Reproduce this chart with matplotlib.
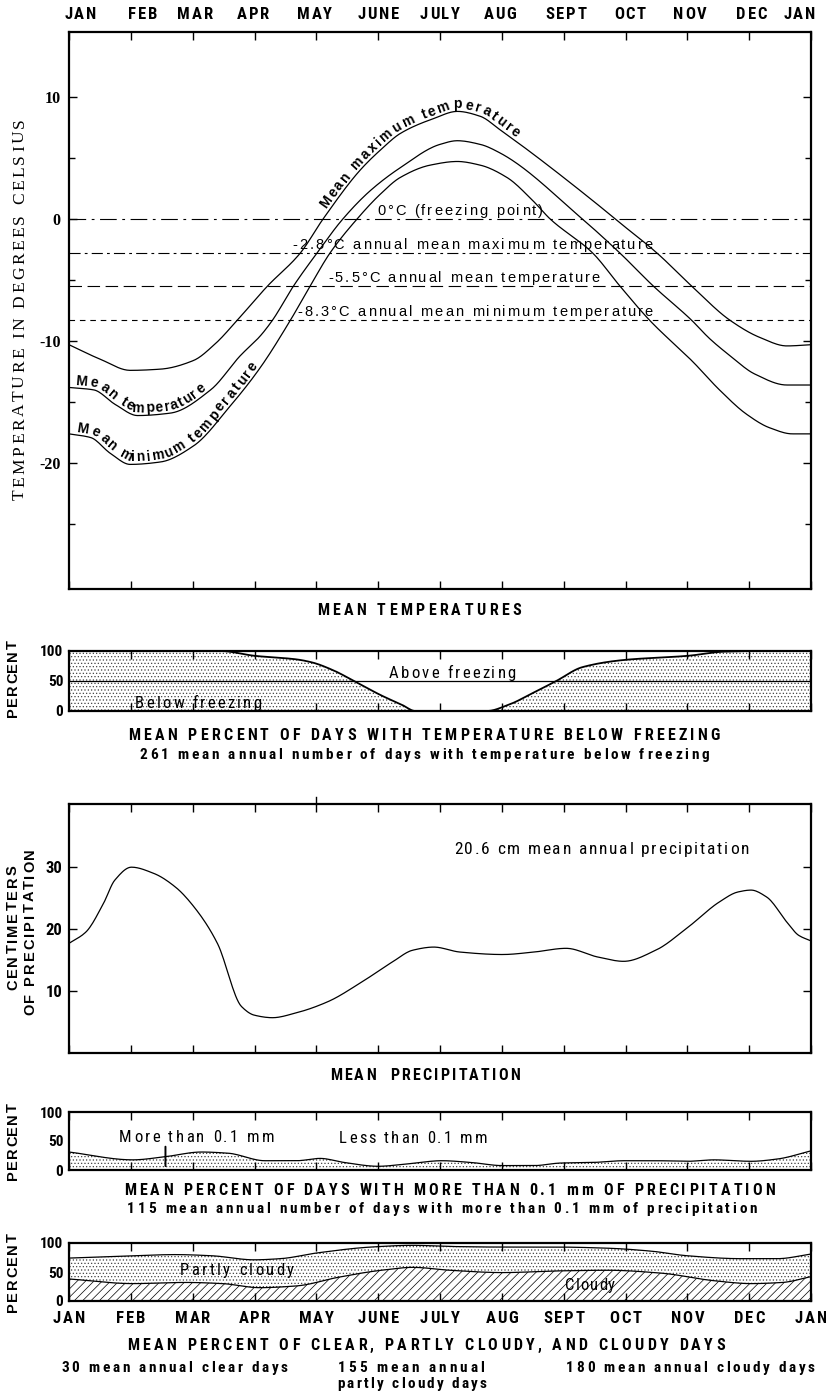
import numpy as np
import matplotlib
matplotlib.use("Agg")
import matplotlib.pyplot as plt
from matplotlib.font_manager import FontProperties, fontManager
from matplotlib.transforms import IdentityTransform

# ---------------- data ----------------
month_labels = ['JAN', 'FEB', 'MAR', 'APR', 'MAY', 'JUNE', 'JULY', 'AUG',
                'SEPT', 'OCT', 'NOV', 'DEC', 'JAN']

# Mean maximum temperature (month position, deg C)
tmax_m = [0.00, 0.51, 0.99, 1.48, 2.01, 2.37, 2.72, 3.21, 3.74, 4.11, 4.71, 5.05,
          5.36, 5.89, 6.28, 6.65, 6.97, 8.47, 8.83, 9.51, 10.07, 10.69, 11.17, 11.61, 12.0]
tmax_v = [-10.3, -11.5, -12.4, -12.3, -11.6, -10.2, -8.3, -5.5, -2.8, 0.0, 4.0, 5.7,
          7.0, 8.2, 8.8, 8.4, 7.3, 1.5, 0.0, -2.8, -5.5, -8.3, -9.7, -10.4, -10.3]

# Mean temperature
tmean_m = [0.00, 0.40, 0.75, 1.11, 1.64, 2.29, 2.77, 3.09, 3.29, 3.63, 4.01, 4.43,
           4.87, 5.36, 6.00, 6.28, 6.65, 6.97, 8.30, 8.91, 9.45, 10.07, 10.36, 10.69,
           11.09, 11.61, 12.0]
tmean_v = [-13.8, -14.0, -15.2, -16.1, -15.9, -14.0, -11.2, -9.6, -8.3, -5.5, -2.8, 0.0,
           2.3, 4.2, 6.1, 6.4, 6.1, 5.4, 0.0, -2.8, -5.5, -8.3, -9.8, -11.2,
           -12.7, -13.6, -13.6]

# Mean minimum temperature
tmin_m = [0.00, 0.35, 0.67, 0.99, 1.48, 2.01, 2.61, 3.09, 3.58, 3.90, 4.22, 4.66,
          5.03, 5.36, 5.84, 6.28, 6.65, 7.08, 7.50, 7.78, 8.47, 8.91, 9.39, 10.09,
          10.52, 10.96, 11.33, 11.70, 12.0]
tmin_v = [-17.6, -17.9, -19.2, -20.1, -19.9, -18.6, -15.3, -12.2, -8.3, -5.5, -2.8, 0.0,
          2.0, 3.4, 4.4, 4.7, 4.4, 3.4, 1.5, 0.0, -2.8, -5.5, -8.3, -11.7,
          -14.0, -16.0, -17.1, -17.6, -17.6]

ref_vals = [0.0, -2.8, -5.5, -8.3]
ref_labels = ['0°C (freezing point)',
              '-2.8°C annual mean maximum temperature',
              '-5.5°C annual mean temperature',
              '-8.3°C annual mean minimum temperature']

# Percent of days below freezing
frz_m = [0.0, 2.45, 3.0, 3.68, 3.93, 4.27, 4.61, 5.05, 5.39, 5.6, 6.76, 7.1, 7.52,
         7.88, 8.3, 8.97, 10.01, 10.61, 11.17, 12.0]
frz_v = [100, 100, 92, 86, 81, 68, 50, 26, 10, 0, 0, 10, 31,
         50, 73, 85, 92, 99, 100, 100]

# Mean precipitation (cm)
pr_m = [0.0, 0.27, 0.56, 0.74, 1.01, 1.37, 1.72, 2.06, 2.40, 2.79, 3.0, 3.29, 3.68,
        4.19, 4.71, 5.23, 5.56, 5.90, 6.32, 7.01, 7.52, 8.04, 8.55, 8.97, 9.49,
        10.01, 10.52, 10.82, 11.03, 11.28, 11.62, 11.80, 12.0]
pr_v = [17.7, 19.5, 24.2, 27.9, 30.0, 29.0, 26.8, 23.1, 17.7, 7.5, 6.1, 5.7, 6.5,
        8.3, 11.3, 14.7, 16.6, 17.1, 16.3, 15.9, 16.3, 16.9, 15.5, 14.8, 16.6,
        20.3, 24.4, 26.0, 26.3, 25.2, 21.0, 19.0, 18.1]

# Percent of days with more than 0.1 mm precipitation
pd_m = [0.0, 1.03, 1.56, 2.14, 2.57, 3.17, 3.68, 4.06, 4.45, 5.0, 5.47, 6.03, 6.5,
        7.01, 7.52, 7.95, 8.47, 8.98, 9.49, 10.0, 10.43, 11.03, 11.46, 12.0]
pd_v = [31, 17.5, 23, 31, 29, 16, 16, 20, 13, 6.4, 10.5, 16, 13,
        7.6, 7.6, 12, 13, 16, 16, 15, 17.5, 15, 19, 33]

# Cloud cover: boundary clear / partly cloudy and partly cloudy / cloudy (percent)
cu_m = [0.0, 1.03, 1.72, 2.31, 2.99, 3.42, 4.02, 4.88, 5.56, 6.16, 7.01, 7.87, 8.72,
        9.41, 10.0, 10.86, 11.46, 12.0]
cu_v = [74, 78, 80, 78, 71, 73, 83, 93, 96, 94, 93, 93, 91, 86, 78, 73, 73, 81]
cl_m = [0.0, 1.03, 1.89, 2.48, 3.08, 3.68, 4.36, 5.05, 5.56, 6.16, 7.01, 7.95, 8.72,
        9.58, 10.43, 11.03, 11.54, 12.0]
cl_v = [38, 30, 32, 30, 23, 26, 41, 53, 58, 53, 49, 52, 53, 48, 35, 30, 32, 42]

# ---------------- fonts ----------------
_names = {f.name for f in fontManager.ttflist}
def first_font(cands):
    for c in cands:
        if c in _names:
            return c
    return 'DejaVu Sans'

COND = first_font(['Liberation Sans Narrow', 'Roboto Condensed', 'DejaVu Sans'])
SANS = first_font(['Liberation Sans', 'DejaVu Sans'])
SERIF = first_font(['Liberation Serif', 'DejaVu Serif'])

def fp(fam, size, weight='normal'):
    return FontProperties(family=fam, size=size, weight=weight)

plt.rcParams['hatch.linewidth'] = 0.5
plt.rcParams['lines.scale_dashes'] = False

W, H = 826, 1392
fig = plt.figure(figsize=(W / 100, H / 100), dpi=100)
fig.patch.set_facecolor('white')
R = fig.canvas.get_renderer()


def smooth(x, y, n=500):
    """Monotone cubic (PCHIP) drawing path through the read points."""
    x = np.asarray(x, float); y = np.asarray(y, float)
    h = np.diff(x); d = np.diff(y) / h
    m = np.zeros_like(y)
    m[0] = d[0]; m[-1] = d[-1]
    for k in range(1, len(y) - 1):
        if d[k - 1] * d[k] <= 0:
            m[k] = 0.0
        else:
            w1 = 2 * h[k] + h[k - 1]; w2 = h[k] + 2 * h[k - 1]
            m[k] = (w1 + w2) / (w1 / d[k - 1] + w2 / d[k])
    xs = np.linspace(x[0], x[-1], n)
    idx = np.clip(np.searchsorted(x, xs, side='right') - 1, 0, len(h) - 1)
    t = (xs - x[idx]) / h[idx]
    h00 = 2 * t**3 - 3 * t**2 + 1; h10 = t**3 - 2 * t**2 + t
    h01 = -2 * t**3 + 3 * t**2; h11 = t**3 - t**2
    ys = h00 * y[idx] + h10 * h[idx] * m[idx] + h01 * y[idx + 1] + h11 * h[idx] * m[idx + 1]
    return xs, ys


def _w(s, f):
    return R.get_text_width_height_descent(s, f, ismath=False)[0]

def adv(ch, f):
    return _w('n' + ch + 'n', f) - _w('nn', f)

def place(pts, text, f, s0, extra, offset=0.0):
    pts = np.asarray(pts, float)
    d = np.hypot(*np.diff(pts, axis=0).T)
    s = np.concatenate([[0], np.cumsum(d)])
    pos = s0
    for ch in text:
        w = adv(ch, f)
        if ch != ' ':
            c = pos + w / 2
            x = np.interp(c, s, pts[:, 0]); y = np.interp(c, s, pts[:, 1])
            xa = np.interp(c - 4, s, pts[:, 0]); ya = np.interp(c - 4, s, pts[:, 1])
            xb = np.interp(c + 4, s, pts[:, 0]); yb = np.interp(c + 4, s, pts[:, 1])
            a = np.arctan2(yb - ya, xb - xa)
            fig.text(x - np.sin(a) * offset, y + np.cos(a) * offset, ch,
                     transform=IdentityTransform(), rotation=np.degrees(a),
                     rotation_mode='anchor', ha='center', va='baseline',
                     fontproperties=f)
        pos += w + extra

def stext(x0, x1, yb, text, f):
    tot = sum(adv(c, f) for c in text)
    extra = (x1 - x0 - tot) / (len(text) - 1)
    place([[x0, H - yb], [x0 + 3000, H - yb]], text, f, 0.0, extra)

def ctext(xc, yb, text, f, extra=0.0):
    tot = sum(adv(c, f) for c in text) + extra * (len(text) - 1)
    x0 = xc - tot / 2
    place([[x0, H - yb], [x0 + 3000, H - yb]], text, f, 0.0, extra)

def vtext(xb, y_bot, y_top, text, f):
    tot = sum(adv(c, f) for c in text)
    extra = (y_bot - y_top - tot) / (len(text) - 1)
    place([[xb, H - y_bot], [xb, H - y_bot + 3000]], text, f, 0.0, extra)

def curve_text(ax, mx, vy, m0, m1, text, f, offset):
    pts = ax.transData.transform(np.column_stack([mx, vy]))
    d = np.hypot(*np.diff(pts, axis=0).T)
    s = np.concatenate([[0], np.cumsum(d)])
    s0 = np.interp(m0, mx, s); s1 = np.interp(m1, mx, s)
    tot = sum(adv(c, f) for c in text)
    extra = (s1 - s0 - tot) / (len(text) - 1)
    place(pts, text, f, s0, extra, offset)

def rect(top, bottom):
    return [69 / W, 1 - bottom / H, 742 / W, (bottom - top) / H]

def style_axes(ax):
    for sp in ax.spines.values():
        sp.set_linewidth(1.6)
    ax.set_xlim(0, 12)
    ax.set_xticks(range(13))
    ax.tick_params(axis='both', which='both', direction='in', top=True, right=True,
                   width=1.0, colors='black')
    ax.tick_params(which='major', length=6)
    ax.tick_params(which='minor', length=4)

LW = 0.9
months = np.arange(13)

# ================= temperature panel =================
axT = fig.add_axes(rect(32, 589))
style_axes(axT)
axT.set_ylim(-30.3, 15.3)
axT.set_xticklabels([])
axT.set_yticks([-20, -10, 0, 10])
axT.set_yticklabels(['-20', '-10', '0', '10'], fontproperties=fp(SERIF, 11.5, 'bold'))
axT.set_yticks([-25, -15, -5, 5], minor=True)
axT.tick_params(axis='y', which='major', pad=6)

sx_max, sy_max = smooth(tmax_m, tmax_v)
sx_mean, sy_mean = smooth(tmean_m, tmean_v)
sx_min, sy_min = smooth(tmin_m, tmin_v)
axT.plot(sx_max, sy_max, color='black', lw=LW)
axT.plot(sx_mean, sy_mean, color='black', lw=LW)
axT.plot(sx_min, sy_min, color='black', lw=LW)

ref_styles = [(0, (12, 4, 2, 4)), (0, (8, 3, 2, 3)), (0, (9, 4)), (0, (4, 3.5))]
for v, ls in zip(ref_vals, ref_styles):
    axT.axhline(v, color='black', lw=0.8, linestyle=ls)

ref_spans = [(377, 543), (292, 653), (328, 600), (297, 653)]
f_ref = fp(SANS, 10.5)
for v, lab, (x0, x1) in zip(ref_vals, ref_labels, ref_spans):
    yl = H - axT.transData.transform((0, v))[1]
    stext(x0, x1, yl - 4, lab, f_ref)

f_cur = fp(SANS, 10, 'bold')
curve_text(axT, sx_max, sy_max, 4.2, 7.2, 'Mean maximum temperature', f_cur, 3)
curve_text(axT, sx_mean, sy_mean, 0.1, 2.25, 'Mean temperature', f_cur, 3)
curve_text(axT, sx_min, sy_min, 0.1, 3.1, 'Mean minimum temperature', f_cur, 3)

# top month labels
top_pos = [0.18, 1.19, 2.04, 2.98, 3.97, 5.0, 6.0, 6.97, 8.04, 9.07, 10.04, 11.04, 11.81]
f_mon = fp(COND, 12, 'bold')
for p, lab in zip(top_pos, month_labels):
    xc = axT.transData.transform((p, 0))[0]
    ctext(xc, 19, lab, f_mon, extra=1.8)

vtext(24, 500, 118, 'TEMPERATURE IN DEGREES CELSIUS', fp(SERIF, 12.5))
stext(317, 521, 615, 'MEAN TEMPERATURES', fp(COND, 11.5, 'bold'))

# ================= below freezing panel =================
axF = fig.add_axes(rect(651, 711))
style_axes(axF)
axF.set_ylim(0, 100)
axF.set_xticklabels([])
axF.set_yticks([0, 50, 100])
axF.set_yticklabels(['0', '50', '100'], fontproperties=fp(COND, 11, 'bold'))
axF.tick_params(axis='y', which='major', pad=4, length=0)
sfx, sfy = smooth(frz_m, frz_v)
axF.fill_between(sfx, 0, sfy, facecolor='white', edgecolor='#444444', hatch='.....', linewidth=0)
axF.plot(sfx, sfy, color='black', lw=1.3)
axF.axhline(50, color='black', lw=0.9)
stext(389, 516, 678, 'Above freezing', fp(COND, 12))
stext(135, 262, 708, 'Below freezing', fp(COND, 12))
vtext(17, 717, 640, 'PERCENT', fp(SANS, 10.5, 'bold'))
stext(128, 720, 740, 'MEAN PERCENT OF DAYS WITH TEMPERATURE BELOW FREEZING', fp(COND, 11.5, 'bold'))
stext(140, 709, 759, '261 mean annual number of days with temperature below freezing', fp(COND, 11, 'bold'))

# ================= precipitation panel =================
axP = fig.add_axes(rect(804, 1053))
style_axes(axP)
axP.set_ylim(0, 40.2)
axP.set_xticklabels([])
axP.set_yticks([10, 20, 30])
axP.set_yticklabels(['10', '20', '30'], fontproperties=fp(COND, 12, 'bold'))
axP.tick_params(axis='y', which='major', pad=5)
spx, spy = smooth(pr_m, pr_v)
axP.plot(spx, spy, color='black', lw=LW)
# small stray tick above the frame at MAY, as in the original print
axP.plot([4, 4], [40.2, 41.3], color='black', lw=1.0, clip_on=False)
stext(454, 749, 854, '20.6 cm mean annual precipitation', fp(COND, 12.5))
vtext(17, 990, 865, 'CENTIMETERS', fp(SANS, 10.5, 'bold'))
vtext(34, 1015, 848, 'OF PRECIPITATION', fp(SANS, 10.5, 'bold'))
stext(330, 520, 1080, 'MEAN  PRECIPITATION', fp(COND, 11.5, 'bold'))

# ================= precipitation days panel =================
axD = fig.add_axes(rect(1112, 1170))
style_axes(axD)
axD.set_ylim(0, 100)
axD.set_xticklabels([])
axD.set_yticks([0, 50, 100])
axD.set_yticklabels(['0', '50', '100'], fontproperties=fp(COND, 11, 'bold'))
axD.tick_params(axis='y', which='major', pad=4, length=0)
sdx, sdy = smooth(pd_m, pd_v)
axD.fill_between(sdx, 0, sdy, facecolor='white', edgecolor='#444444', hatch='.....', linewidth=0)
axD.plot(sdx, sdy, color='black', lw=LW)
axD.annotate('', xy=(1.56, 2), xytext=(1.56, 45),
             arrowprops=dict(arrowstyle='-', lw=1.4, color='black'))
stext(119, 274, 1142, 'More than 0.1 mm', fp(COND, 12))
stext(339, 487, 1143, 'Less than 0.1 mm', fp(COND, 12))
vtext(17, 1180, 1103, 'PERCENT', fp(SANS, 10.5, 'bold'))
stext(124, 775, 1195, 'MEAN PERCENT OF DAYS WITH MORE THAN 0.1 mm OF PRECIPITATION', fp(COND, 11.5, 'bold'))
stext(127, 757, 1213, '115 mean annual number of days with more than 0.1 mm of precipitation', fp(COND, 11, 'bold'))

# ================= cloud cover panel =================
axC = fig.add_axes(rect(1243, 1301))
style_axes(axC)
axC.set_ylim(0, 100)
axC.set_yticks([0, 50, 100])
axC.set_yticklabels(['0', '50', '100'], fontproperties=fp(COND, 11, 'bold'))
axC.tick_params(axis='y', which='major', pad=4, length=0)
axC.set_xticklabels([])
sux, suy = smooth(cu_m, cu_v)
slx, sly = smooth(cl_m, cl_v)
axC.fill_between(slx, 0, sly, facecolor='white', edgecolor='black', hatch='////', linewidth=0)
axC.fill_between(slx, sly, suy, facecolor='white', edgecolor='#444444', hatch='.....', linewidth=0)
axC.plot(sux, suy, color='black', lw=LW)
axC.plot(slx, sly, color='black', lw=LW)
stext(180, 294, 1275, 'Partly cloudy', fp(COND, 12))
ctext(590, 1290, 'Cloudy', fp(COND, 12), extra=1.0)
for p, lab in zip(months, month_labels):
    xc = axC.transData.transform((p, 0))[0]
    ctext(xc, 1323, lab, f_mon, extra=1.8)
vtext(17, 1312, 1233, 'PERCENT', fp(SANS, 10.5, 'bold'))
stext(127, 725, 1350, 'MEAN PERCENT OF CLEAR, PARTLY CLOUDY, AND CLOUDY DAYS', fp(COND, 11.5, 'bold'))
f_sub = fp(COND, 11, 'bold')
stext(61, 288, 1372, '30 mean annual clear days', f_sub)
stext(338, 484, 1372, '155 mean annual', f_sub)
stext(337, 487, 1388, 'partly cloudy days', f_sub)
stext(566, 815, 1372, '180 mean annual cloudy days', f_sub)

fig.savefig('out.png', dpi=100, facecolor='white')
